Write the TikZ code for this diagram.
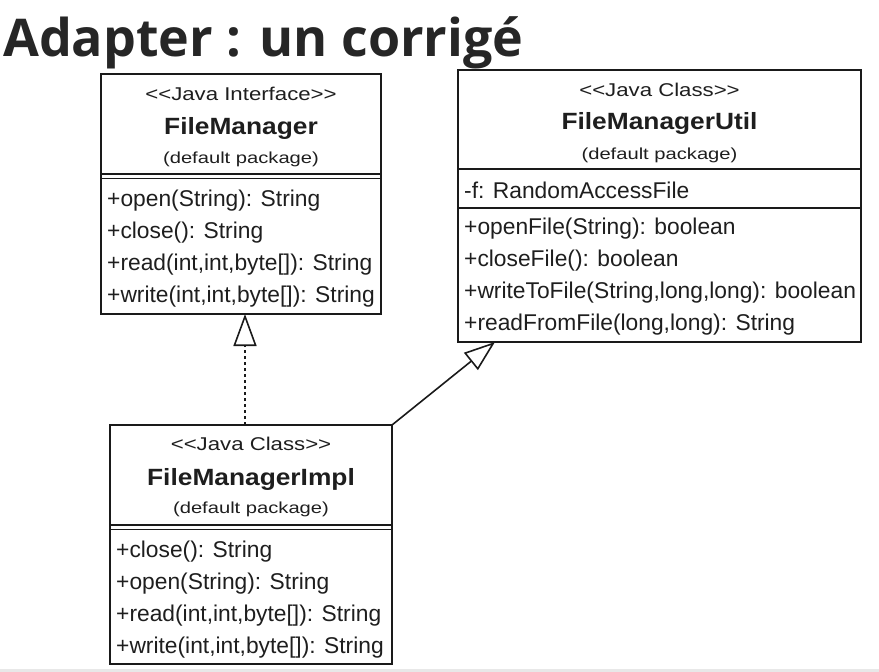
\documentclass[tikz,border=0pt]{standalone}
\usepackage{fontspec}
\setmainfont{Liberation Sans}
\newfontfamily\titlefont{Open Sans}
\newfontfamily\stereofont[FakeStretch=1.2]{Liberation Sans}
\newfontfamily\namefont[FakeStretch=1.12]{Liberation Sans}
\newfontfamily\pkgfont[FakeStretch=1.26]{Liberation Sans}
\usetikzlibrary{arrows.meta}
\definecolor{txt}{HTML}{1E1E1E}
\definecolor{linec}{HTML}{1A1A1A}
\definecolor{ttl}{HTML}{262626}
\definecolor{band}{HTML}{E8E8E8}
\begin{document}
\begin{tikzpicture}[x=1pt,y=-1pt,
  umlbox/.style={draw=linec, line width=1.7pt, anchor=north west, inner sep=0pt, outer sep=0pt},
  stereo/.style={font=\stereofont\fontsize{18.5}{20}\selectfont, text=txt, inner sep=0pt},
  cname/.style={font=\namefont\bfseries\fontsize{23.5}{26}\selectfont, text=txt, inner sep=0pt},
  pkg/.style={font=\pkgfont\fontsize{16}{18}\selectfont, text=txt, inner sep=0pt},
  member/.style={font=\fontsize{22.8}{25}\selectfont, text=txt, inner sep=0pt, anchor=west},
  sepline/.style={draw=linec, line width=1.4pt},
  rel/.style={draw=linec, line width=1.6pt}
]
\useasboundingbox (0,0) rectangle (879,672);
\fill[band] (0,669) rectangle (879,672);

% title
\node[anchor=base west, inner sep=0pt, text=ttl, font=\titlefont\bfseries\fontsize{52}{58}\selectfont] (title) at (3,56) {Adapter : un corrigé};

% FileManager
\node[umlbox, minimum width=280pt, minimum height=240pt] (fm) at (101,74) {};
\node[stereo] (fmst) at (241,94) {<<Java Interface>>};
\node[cname] (fmnm) at (241,128) {FileManager};
\node[pkg] (fmpk) at (241,159) {(default package)};
\draw[sepline] (fm.west |- 0,174) -- (fm.east |- 0,174);
\draw[sepline] (fm.west |- 0,178.5) -- (fm.east |- 0,178.5);
\node[member] (fm1) at (107,201) {+open(String): String};
\node[member] (fm2) at (107,233) {+close(): String};
\node[member] (fm3) at (107,265) {+read(int,int,byte[]): String};
\node[member] (fm4) at (107,297) {+write(int,int,byte[]): String};

% FileManagerUtil
\node[umlbox, minimum width=403pt, minimum height=272pt] (fmu) at (458,70) {};
\node[stereo] (fmust) at (659.5,90) {<<Java Class>>};
\node[cname] (fmunm) at (659.5,123) {FileManagerUtil};
\node[pkg] (fmupk) at (659.5,155) {(default package)};
\draw[sepline] (fmu.west |- 0,169) -- (fmu.east |- 0,169);
\node[member] (fmua) at (464,190) {-f: RandomAccessFile};
\draw[sepline] (fmu.west |- 0,208) -- (fmu.east |- 0,208);
\node[member] (fmu1) at (464,229) {+openFile(String): boolean};
\node[member] (fmu2) at (464,261) {+closeFile(): boolean};
\node[member] (fmu3) at (464,293) {+writeToFile(String,long,long): boolean};
\node[member] (fmu4) at (464,325) {+readFromFile(long,long): String};

% FileManagerImpl
\node[umlbox, minimum width=282pt, minimum height=239pt] (fmi) at (110,425) {};
\node[stereo] (fmist) at (251,444) {<<Java Class>>};
\node[cname] (fminm) at (251,479) {FileManagerImpl};
\node[pkg] (fmipk) at (251,509) {(default package)};
\draw[sepline] (fmi.west |- 0,525) -- (fmi.east |- 0,525);
\draw[sepline] (fmi.west |- 0,529.5) -- (fmi.east |- 0,529.5);
\node[member] (fmi1) at (116,552) {+close(): String};
\node[member] (fmi2) at (116,584) {+open(String): String};
\node[member] (fmi3) at (116,616) {+read(int,int,byte[]): String};
\node[member] (fmi4) at (116,648) {+write(int,int,byte[]): String};

% relations
\draw[rel, dash pattern=on 3pt off 3pt, -{Triangle[open, length=32pt, width=23pt, line width=1.6pt]}]
  ([xshift=-6pt]fmi.north) -- ([xshift=-6pt]fmi.north |- fm.south);
\draw[rel, -{Triangle[open, length=31pt, width=22pt, line width=1.6pt]}]
  (fmi.north east) -- ([xshift=37pt]fmu.south west);
\end{tikzpicture}
\end{document}
